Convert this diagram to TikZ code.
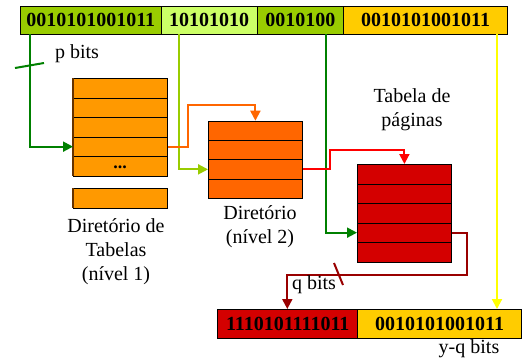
\documentclass[tikz,border=0pt]{standalone}
\usepackage{fontspec}
\setmainfont{LiberationSerif}[Extension=.ttf, UprightFont=*-Regular, BoldFont=*-Bold]
\usetikzlibrary{arrows.meta}

\definecolor{segGreen}{HTML}{99CC00}
\definecolor{segLight}{HTML}{CCFF66}
\definecolor{segGold}{HTML}{FFCC00}
\definecolor{tabOne}{HTML}{FF9900}
\definecolor{tabTwo}{HTML}{FF6600}
\definecolor{tabThree}{HTML}{D40000}
\definecolor{wireDark}{HTML}{008000}
\definecolor{wireLight}{HTML}{99CC00}
\definecolor{wireOrange}{HTML}{FF6600}
\definecolor{wireRed}{HTML}{FF0000}
\definecolor{wireMaroon}{HTML}{990000}
\definecolor{wireYellow}{HTML}{FFFF00}
\definecolor{edgeBrown}{HTML}{663300}

\begin{document}
\begin{tikzpicture}[x=1pt,y=-1pt,
  seg/.style={draw, line width=0.8pt, minimum height=28pt, inner sep=0pt,
    anchor=north west, font=\fontsize{20}{24}\selectfont\bfseries},
  row/.style={draw, line width=0.8pt, inner sep=0pt, anchor=north west,
    minimum width=94pt, minimum height=19.5pt},
  lbl/.style={font=\fontsize{20}{24}\selectfont, align=center, inner sep=0pt},
  wire/.style={line width=2pt, -{Triangle[length=10pt,width=10pt]}},
  tick/.style={line width=2pt}
]
\useasboundingbox (0,0) rectangle (522,360);

% virtual address fields
\node[seg, fill=segGreen, minimum width=140.7pt] (s1) at (20,6) {0010101001011};
\node[seg, fill=segLight, minimum width=96pt] (s2) at (160.7,6) {10101010};
\node[seg, fill=segGreen, minimum width=86.6pt] (s3) at (256.7,6) {0010100};
\node[seg, fill=segGold, minimum width=163.7pt] (s4) at (343.3,6) {0010101001011};

% level-1 table directory
\foreach \i in {1,...,5}
  \node[row, fill=tabOne] (t1r\i) at (73,{78+(\i-1)*19.5}) {};
\node[font=\fontsize{18}{18}\selectfont\bfseries, inner sep=0pt] (dots) at (120,167) {...};
\node[row, fill=tabOne] (t1x) at (73,188) {};
\draw[edgeBrown, line width=1.4pt] (t1r1.north west) -- (t1r5.south west);
\draw[edgeBrown, line width=1.4pt] (t1x.north west) -- (t1x.south west);

% level-2 directory
\foreach \i in {1,...,4}
  \node[row, fill=tabTwo, minimum height=19.3pt] (t2r\i) at (208,{120.7+(\i-1)*19.3}) {};

% page table
\foreach \i in {1,...,5}
  \node[row, fill=tabThree] (t3r\i) at (357,{164+(\i-1)*19.5}) {};

% physical address
\node[seg, fill=tabThree, minimum width=140pt, minimum height=29.3pt] (b1) at (217.3,309) {1110101111011};
\node[seg, fill=segGold, minimum width=163.7pt, minimum height=29.3pt] (b2) at (357.3,309) {0010101001011};

% connectors
\coordinate (k1) at (30,34);
\draw[wire, wireDark] (k1) |- (t1r4.west);
\coordinate (k2) at (179,34);
\draw[wire, wireLight] (k2) |- (t2r3.west);
\coordinate (k3) at (325.5,34);
\draw[wire, wireDark] (k3) |- (t3r4.west);
\coordinate (k4) at (497,34);
\draw[wire, wireYellow] (k4) -- (k4 |- b2.north);

\coordinate (o1) at (187.5,105);
\draw[wire, wireOrange] (t1r4.east) -| (o1) -| (t2r1.north);
\coordinate (r1) at (330,150);
\draw[wire, wireRed] (t2r3.east) -| (r1) -| (t3r1.north);
\coordinate (m1) at (466.7,275);
\coordinate (m2) at (287.3,275);
\draw[wire, wireMaroon] (t3r4.east) -| (m1) -- (m2) -- (m2 |- b1.north);

% width marks
\coordinate (p1) at (15,68); \coordinate (p2) at (44,63);
\draw[tick, wireDark] (p1) -- (p2);
\coordinate (q1) at (334,263); \coordinate (q2) at (343,285);
\draw[tick, wireMaroon] (q1) -- (q2);

% labels
\node[lbl] (lp) at (77,54) {p bits};
\node[lbl] (lq) at (314,285) {q bits};
\node[lbl] (lyq) at (469,349) {y-q bits};
\node[lbl] (lpt) at (412,110) {Tabela de\\páginas};
\node[lbl] (ld1) at (116,252) {Diretório de\\Tabelas\\(nível 1)};
\node[lbl] (ld2) at (260,227) {Diretório\\(nível 2)};
\end{tikzpicture}
\end{document}
